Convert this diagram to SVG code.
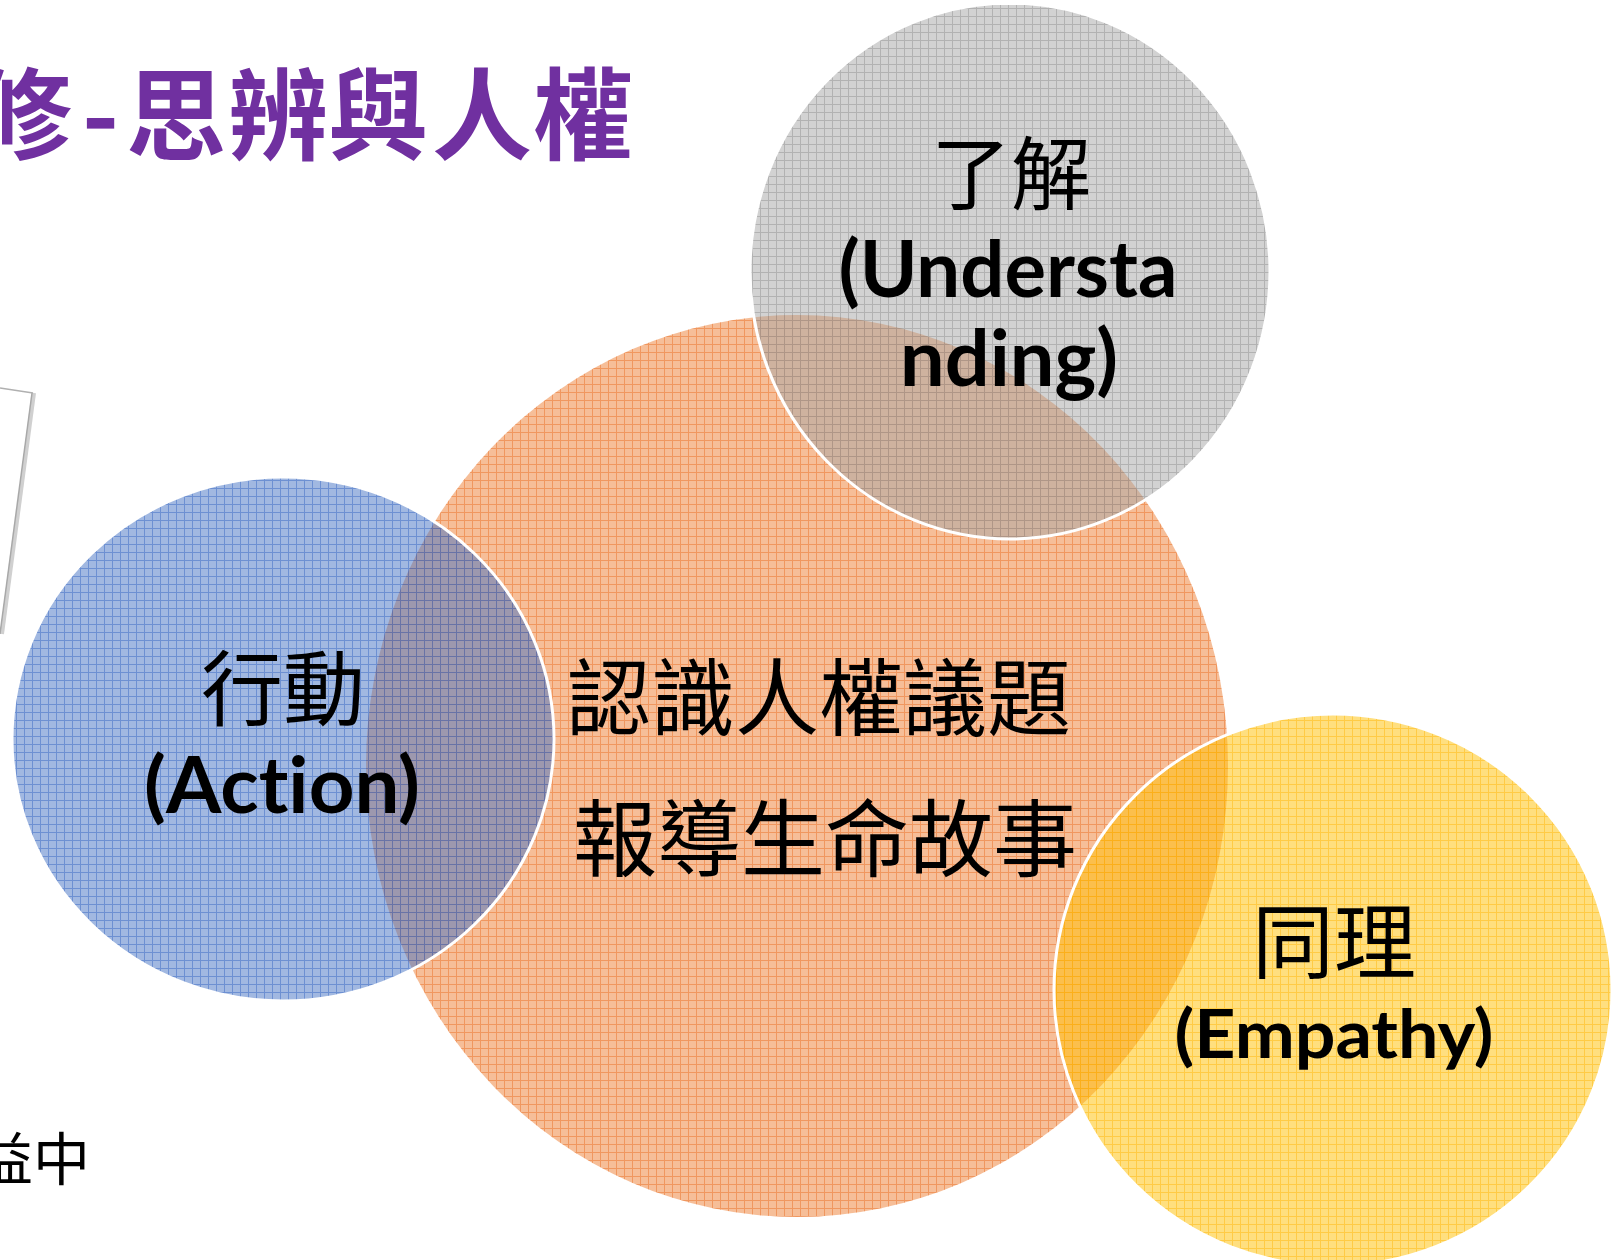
<svg xmlns="http://www.w3.org/2000/svg" width="1618" height="1260" viewBox="0 0 1618 1260">
<style>
.cjk{font-family:"Noto Sans CJK TC","Noto Sans CJK SC",sans-serif;font-size:82px;fill:#000;text-anchor:middle}
.lat{font-family:Lato,"Open Sans","Liberation Sans",sans-serif;font-weight:bold;fill:#000;text-anchor:middle;font-variant-ligatures:none}
.title{font-family:"Noto Sans CJK TC","Noto Sans CJK SC",sans-serif;font-weight:bold;font-size:100px;fill:#7030A0}
.edge{stroke:#fff;stroke-width:3}
</style>
<defs>
<pattern id="pGray" width="8" height="8" patternUnits="userSpaceOnUse"><path d="M0 0.5H8M0.5 0V8" stroke="#8c8c8c" stroke-width="1" fill="none"/></pattern>
<pattern id="pOrange" width="8" height="8" patternUnits="userSpaceOnUse"><path d="M0 0.5H8M0.5 0V8" stroke="#e8671a" stroke-width="1" fill="none"/></pattern>
<pattern id="pBlue" width="8" height="8" patternUnits="userSpaceOnUse"><path d="M0 0.5H8M0.5 0V8" stroke="#2e5fc0" stroke-width="1" fill="none"/></pattern>
<pattern id="pYellow" width="8" height="8" patternUnits="userSpaceOnUse"><path d="M0 0.5H8M0.5 0V8" stroke="#ffb300" stroke-width="1" fill="none"/></pattern>
<clipPath id="topClip"><rect x="0" y="5" width="1618" height="1255"/></clipPath>
</defs>
<rect width="1618" height="1260" fill="#fff"/>

<g id="title">
<text class="title" x="-28 82 126 228 328 432 533" y="152">修-思辨與人權</text>
</g>

<g id="side-card">
<polygon points="0,388 33,393 1,634 0,634" fill="#fff"/>
<line x1="34" y1="393" x2="2" y2="634" stroke="#d0d0d0" stroke-width="4"/>
<line x1="32" y1="393" x2="0" y2="634" stroke="#a8a8a8" stroke-width="1.5"/>
<line x1="0" y1="388" x2="33" y2="393" stroke="#b0b0b0" stroke-width="1.5"/>
</g>

<g id="side-text">
<text class="cjk" x="-24" y="1180" style="font-size:57px;text-anchor:start">益中</text>
</g>

<g id="node-core">
<ellipse cx="797" cy="766" rx="431" ry="451" fill="#ED7D31" fill-opacity="0.5"/>
<ellipse cx="797" cy="766" rx="431" ry="451" fill="url(#pOrange)" fill-opacity="0.45"/>
<text class="cjk" x="819" y="729" style="font-size:84px">認識人權議題</text>
<text class="cjk" x="825" y="870" style="font-size:84px">報導生命故事</text>
</g>

<g id="node-action">
<ellipse cx="283" cy="739" rx="271" ry="262" fill="#4472C4" fill-opacity="0.5"/>
<ellipse cx="283" cy="739" rx="271" ry="262" fill="url(#pBlue)" fill-opacity="0.45" class="edge"/>
<text class="cjk" x="283" y="719">行動</text>
<text class="lat" x="282" y="813" style="font-size:78px" textLength="276" lengthAdjust="spacingAndGlyphs">(Action)</text>
</g>

<g id="node-understanding" clip-path="url(#topClip)">
<ellipse cx="1010" cy="271" rx="260" ry="268" fill="#A5A5A5" fill-opacity="0.5"/>
<ellipse cx="1010" cy="271" rx="260" ry="268" fill="url(#pGray)" fill-opacity="0.45" class="edge"/>
<text class="cjk" x="1011" y="203" style="font-size:80px">了解</text>
<text class="lat" x="1008" y="297" style="font-size:78px" textLength="339" lengthAdjust="spacingAndGlyphs">(Understa</text>
<text class="lat" x="1009" y="386" style="font-size:78px" textLength="218" lengthAdjust="spacingAndGlyphs">nding)</text>
</g>

<g id="node-empathy">
<ellipse cx="1333" cy="990" rx="279" ry="276" fill="#FFC000" fill-opacity="0.5"/>
<ellipse cx="1333" cy="990" rx="279" ry="276" fill="url(#pYellow)" fill-opacity="0.45" class="edge"/>
<text class="cjk" x="1334" y="972">同理</text>
<text class="lat" x="1334" y="1058" style="font-size:66px" textLength="319" lengthAdjust="spacingAndGlyphs">(Empathy)</text>
</g>

<g id="connectors"></g>
</svg>
